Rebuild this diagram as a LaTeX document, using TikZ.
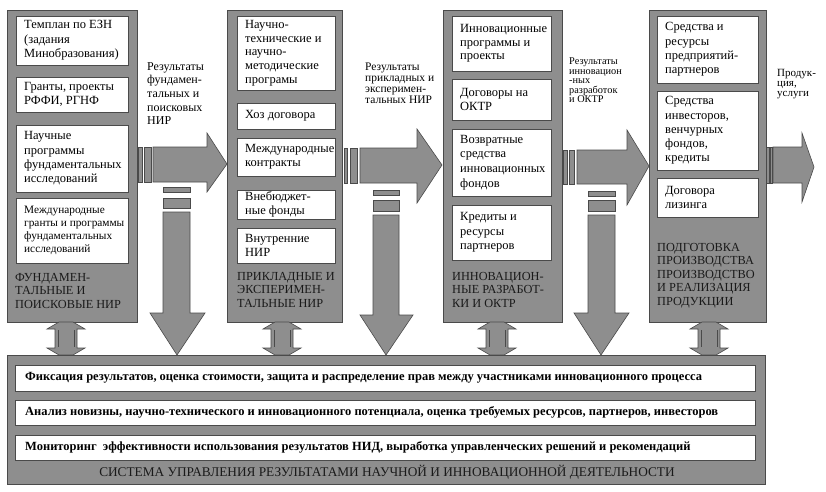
\documentclass[tikz,border=0pt]{standalone}
\usepackage{fontspec}
\setmainfont{Liberation Serif}
\newfontfamily\tnr{Liberation Serif}
\definecolor{panelgray}{HTML}{8E8E8E}
\definecolor{edgegray}{HTML}{4A4A4A}
\definecolor{labeltext}{HTML}{1A1A1A}
% name, x1, y1, x2, y2, line spacing, text
\newcommand\wb[7]{%
  \draw[wbox] (#2,#3) rectangle (#4,#5);
  \node[txt, font=\tnr\fontsize{12.5}{#6}\selectfont] (#1) at (#2+8,{(#3+#5)/2}) {#7};}
\newcommand\dblarrow[2]{% name, center x
  \coordinate (#1) at (#2,338);
  \draw[arr] (#2-7,322) -- (#2+7,322) -- (#2+19,329) -- (#2+11,329) -- (#2+11,348)
     -- (#2+19,348) -- (#2+7,355) -- (#2-7,355) -- (#2-19,348) -- (#2-11,348)
     -- (#2-11,329) -- (#2-19,329) -- cycle;
  \draw[edgegray, line width=0.5pt] (#2-8,330) -- (#2-8,347) (#2+8,330) -- (#2+8,347);}
\begin{document}
\begin{tikzpicture}[x=1pt,y=-1pt,
  colbox/.style={fill=panelgray, draw=edgegray, line width=1pt},
  wbox/.style={fill=white, draw=edgegray, line width=0.8pt},
  txt/.style={inner sep=0pt, anchor=west, align=left},
  lbl/.style={inner sep=0pt, anchor=north west, align=left, text=labeltext, font=\tnr\fontsize{12.3}{13.5}\selectfont},
  arr/.style={fill=panelgray, draw=edgegray, line width=0.6pt},
  bartxt/.style={inner sep=0pt, anchor=west, font=\tnr\bfseries\fontsize{12.5}{14}\selectfont},
]
\useasboundingbox (0,0) rectangle (826,491);
\fill[white] (0,0) rectangle (826,491);

% ---- columns
\draw[colbox] (7,10) rectangle (137,322);
\draw[colbox] (227,10) rectangle (342,322);
\draw[colbox] (443,10) rectangle (562,322);
\draw[colbox] (649,10) rectangle (766,322);

% column 1
\wb{a1}{16}{16}{128}{65}{14.6}{Темплан по ЕЗН\\(задания\\Минобразования)}
\wb{a2}{16}{77}{128}{112}{14}{Гранты, проекты\\РФФИ, РГНФ}
\wb{a3}{16}{125}{128}{192}{14.3}{Научные\\программы\\фундаментальных\\исследований}
\draw[wbox] (16,198) rectangle (128,263);
\node[txt, font=\tnr\fontsize{11.3}{12.8}\selectfont] (a4) at (24,230.5) {Международные\\гранты и программы\\фундаментальных\\исследований};
\node[lbl] (la) at (15,273) {ФУНДАМЕН-\\ТАЛЬНЫЕ И\\ПОИСКОВЫЕ НИР};

% column 2
\wb{b1}{237}{16}{335}{90}{13.7}{Научно-\\технические и\\научно-\\методические\\програмы}
\wb{b2}{237}{103}{335}{129}{13.7}{Хоз договора}
\wb{b3}{237}{138}{335}{176}{13.7}{Международные\\контракты}
\wb{b4}{237}{190}{335}{219}{13.7}{Внебюджет-\\ные фонды}
\wb{b5}{237}{228}{335}{263}{13.7}{Внутренние\\НИР}
\node[lbl] (lb) at (237,272) {ПРИКЛАДНЫЕ И\\ЭКСПЕРИМЕН-\\ТАЛЬНЫЕ НИР};

% column 3
\wb{c1}{452}{16}{551}{71}{13.6}{Инновационные\\программы и\\проекты}
\wb{c2}{452}{79}{551}{120}{14}{Договоры на\\ОКТР}
\wb{c3}{452}{129}{551}{196}{14.6}{Возвратные\\средства\\инновационных\\фондов}
\wb{c4}{452}{205}{551}{260}{14.4}{Кредиты и\\ресурсы\\партнеров}
\node[lbl] (lc) at (452,272) {ИННОВАЦИОН-\\НЫЕ РАЗРАБОТ-\\КИ И ОКТР};

% column 4
\wb{d1}{657}{16}{758}{83}{14.4}{Средства и\\ресурсы\\предприятий-\\партнеров}
\wb{d2}{657}{91}{758}{170}{14.3}{Средства\\инвесторов,\\венчурных\\фондов,\\кредиты}
\wb{d3}{657}{178}{758}{217}{14.3}{Договора\\лизинга}
\node[lbl] (ld) at (657,243) {ПОДГОТОВКА\\ПРОИЗВОДСТВА\\ПРОИЗВОДСТВО\\И РЕАЛИЗАЦИЯ\\ПРОДУКЦИИ};

% ---- arrow labels
\node[inner sep=0pt, anchor=north west, align=left, font=\tnr\fontsize{12}{13.7}\selectfont] (t1) at (147,62)
  {Результаты\\фундамен-\\тальных и\\поисковых\\НИР};
\node[inner sep=0pt, anchor=north west, align=left, font=\tnr\fontsize{11.5}{10.8}\selectfont] (t2) at (365,63)
  {Результаты\\прикладных и\\эксперимен-\\тальных НИР};
\node[inner sep=0pt, anchor=north west, align=left, font=\tnr\fontsize{10.3}{9.4}\selectfont] (t3) at (569,58)
  {Результаты\\инновацион\\-ных\\разработок\\и ОКТР};
\node[inner sep=0pt, anchor=north west, align=left, font=\tnr\fontsize{11}{10.2}\selectfont] (t4) at (777,69)
  {Продук-\\ция,\\услуги};

% ---- right arrows
\draw[arr] (138,147) rectangle (142,182);
\draw[arr] (144,147) rectangle (151,182);
\draw[arr] (153,147) -- (207,147) -- (207,133) -- (227,164) -- (207,192) -- (207,182) -- (153,182) -- cycle;

\draw[arr] (344,148) rectangle (347,183);
\draw[arr] (350,148) rectangle (357,183);
\draw[arr] (360,148) -- (417,148) -- (417,129) -- (442,165) -- (417,203) -- (417,183) -- (360,183) -- cycle;

\draw[arr] (563,150) rectangle (567,184);
\draw[arr] (569,150) rectangle (574,184);
\draw[arr] (577,150) -- (627,150) -- (627,130) -- (649,166) -- (627,205) -- (627,184) -- (577,184) -- cycle;

\draw[arr] (766,147) rectangle (769,183);
\draw[arr] (770,147) rectangle (772,183);
\draw[arr] (773,147) -- (802,147) -- (802,133) -- (814,167) -- (802,202) -- (802,183) -- (773,183) -- cycle;

% ---- down arrows
\draw[arr] (163,187) rectangle (190,192);
\draw[arr] (163,198) rectangle (190,208);
\draw[arr] (163,212) -- (190,212) -- (190,313) -- (205,313) -- (177,355) -- (150,313) -- (163,313) -- cycle;

\draw[arr] (373,190) rectangle (399,195);
\draw[arr] (373,200) rectangle (399,211);
\draw[arr] (373,215) -- (399,215) -- (399,315) -- (413,315) -- (386,355) -- (360,315) -- (373,315) -- cycle;

\draw[arr] (588,191) rectangle (615,196);
\draw[arr] (588,200) rectangle (615,211);
\draw[arr] (588,215) -- (615,215) -- (615,313) -- (629,313) -- (601,355) -- (574,313) -- (588,313) -- cycle;

% ---- double arrows
\dblarrow{u1}{66}
\dblarrow{u2}{282}
\dblarrow{u3}{497}
\dblarrow{u4}{709}

% ---- bottom panel
\draw[colbox] (7,355) rectangle (765,484);
\draw[wbox] (15,365) rectangle (755,391);
\draw[wbox] (15,400) rectangle (755,425);
\draw[wbox] (15,435) rectangle (755,460);
\node[bartxt] (e1) at (25,378) {Фиксация результатов, оценка стоимости, защита и распределение прав между участниками инновационного процесса};
\node[bartxt] (e2) at (25,412.5) {Анализ новизны, научно-технического и инновационного потенциала, оценка требуемых ресурсов, партнеров, инвесторов};
\node[bartxt] (e3) at (25,447.5) {Мониторинг\ \ эффективности использования результатов НИД, выработка управленческих решений и рекомендаций};
\node[inner sep=0pt, text=labeltext, font=\tnr\fontsize{13.3}{14}\selectfont] (title) at (387,472.5) {СИСТЕМА УПРАВЛЕНИЯ РЕЗУЛЬТАТАМИ НАУЧНОЙ И ИННОВАЦИОННОЙ ДЕЯТЕЛЬНОСТИ};
\end{tikzpicture}
\end{document}
